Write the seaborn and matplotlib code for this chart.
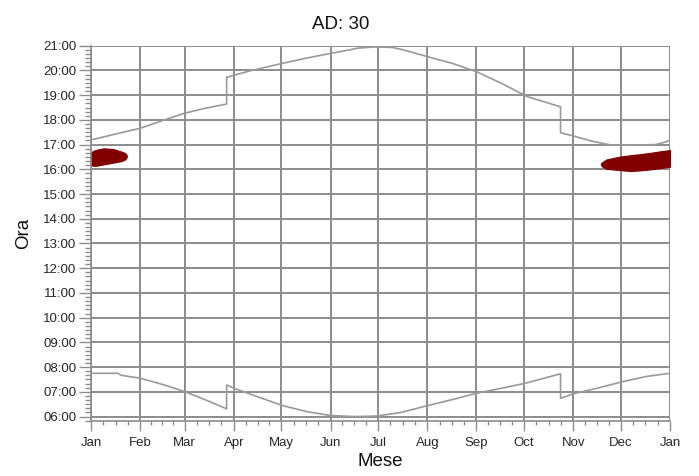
import matplotlib
matplotlib.use("Agg")
import matplotlib.pyplot as plt
import seaborn as sns
import pandas as pd
from matplotlib.ticker import FixedLocator, FuncFormatter, MultipleLocator

# Month axis (day of year)
month_labels = ["Jan", "Feb", "Mar", "Apr", "May", "Jun", "Jul",
                "Aug", "Sep", "Oct", "Nov", "Dec", "Jan"]
month_days = [0, 31, 59, 90, 120, 151, 181, 212, 243, 273, 304, 334, 365]

# Sunset time (hours), with daylight-saving jumps
sunset_days = [0, 15, 31, 45, 59, 72, 85.5, 85.5, 100, 121, 136, 151, 163, 168,
               179, 190, 197, 212, 228, 243, 259, 275, 296, 296, 304, 315,
               327, 340, 356, 363, 365]
sunset_hours = [17.19, 17.42, 17.66, 17.97, 18.27, 18.47, 18.64, 19.72, 19.98,
                20.29, 20.50, 20.69, 20.83, 20.90, 20.95, 20.93, 20.83, 20.56,
                20.28, 19.95, 19.47, 18.94, 18.53, 17.48, 17.35, 17.15, 16.99,
                16.98, 17.00, 17.12, 17.19]

# Sunrise time (hours), with daylight-saving jumps
sunrise_days = [0, 17, 19, 31, 45, 59, 72, 85.5, 85.5, 90, 105, 121, 136, 151,
                166, 180, 195, 212, 228, 243, 259, 274, 296, 296, 304, 320,
                335, 350, 365]
sunrise_hours = [7.75, 7.75, 7.67, 7.55, 7.30, 7.01, 6.68, 6.31, 7.28, 7.15,
                 6.80, 6.44, 6.20, 6.04, 6.00, 6.02, 6.16, 6.44, 6.69, 6.94,
                 7.15, 7.35, 7.73, 6.74, 6.92, 7.16, 7.41, 7.62, 7.75]

# Highlighted window, early January
jan_band_days = [0.5, 1.5, 4, 8, 14, 19, 21.5, 22.5]
jan_band_low = [16.16, 16.14, 16.15, 16.20, 16.27, 16.33, 16.40, 16.48]
jan_band_high = [16.70, 16.75, 16.80, 16.85, 16.82, 16.72, 16.66, 16.58]

# Highlighted window, late November - December
dec_band_days = [321.5, 322.5, 325, 333, 340, 347, 353, 358, 365]
dec_band_low = [16.17, 16.10, 16.02, 15.97, 15.93, 15.96, 16.00, 16.04, 16.11]
dec_band_high = [16.24, 16.30, 16.40, 16.51, 16.57, 16.62, 16.67, 16.72, 16.78]

sns.set_theme(style="white")
plt.rcParams["font.family"] = ["Liberation Sans", "DejaVu Sans"]

fig = plt.figure(figsize=(6.99, 4.76), dpi=100)
ax = fig.add_axes([91 / 699, 1 - 421 / 476, 579 / 699, (421 - 45.7) / 476])

grid_color = "#8c8c8c"
line_color = "#999999"
band_color = "#800000"

sunset = pd.DataFrame({"day": sunset_days, "hour": sunset_hours})
sunrise = pd.DataFrame({"day": sunrise_days, "hour": sunrise_hours})

sns.lineplot(data=sunset, x="day", y="hour", ax=ax, estimator=None, sort=False,
             color=line_color, linewidth=1.2, zorder=3)
sns.lineplot(data=sunrise, x="day", y="hour", ax=ax, estimator=None, sort=False,
             color=line_color, linewidth=1.2, zorder=3)

ax.fill_between(jan_band_days, jan_band_low, jan_band_high,
                color=band_color, linewidth=0.8, edgecolor=band_color, zorder=4)
ax.fill_between(dec_band_days, dec_band_low, dec_band_high,
                color=band_color, linewidth=0.8, edgecolor=band_color, zorder=4)

ax.set_xlim(0, 365)
ax.set_ylim(5.82, 21)

# Month ticks with quarter-month minor ticks
ax.xaxis.set_major_locator(FixedLocator(month_days))
ax.set_xticklabels(month_labels)
minor_x = []
for a, b in zip(month_days[:-1], month_days[1:]):
    minor_x += [a + (b - a) * k / 4 for k in (1, 2, 3)]
ax.xaxis.set_minor_locator(FixedLocator(minor_x))

# Hour ticks with 10-minute minor ticks
ax.yaxis.set_major_locator(FixedLocator(list(range(6, 22))))
ax.yaxis.set_major_formatter(FuncFormatter(lambda v, p: f"{int(round(v)):02d}:00"))
ax.yaxis.set_minor_locator(MultipleLocator(1 / 6))

ax.grid(True, which="major", color=grid_color, linewidth=1.4, zorder=1)
ax.set_axisbelow(True)

for side in ("top", "right"):
    ax.spines[side].set_visible(False)
for side in ("left", "bottom"):
    ax.spines[side].set_color(grid_color)
    ax.spines[side].set_linewidth(1.2)

ax.tick_params(axis="x", which="major", direction="out", length=7.2, width=1.0,
               color=grid_color, pad=4, labelsize=9.5, labelcolor="#262626",
               bottom=True)
ax.tick_params(axis="x", which="minor", direction="out", length=3.2, width=1.0,
               color=grid_color, bottom=True)
ax.tick_params(axis="y", which="major", direction="out", length=8.6, width=1.0,
               color=grid_color, pad=2, labelsize=9.5, labelcolor="#262626",
               left=True)
ax.tick_params(axis="y", which="minor", direction="out", length=4.3, width=1.0,
               color=grid_color, left=True)

ax.set_xlabel("Mese", fontsize=13.5, color="#111111", labelpad=3)
ax.set_ylabel("Ora", fontsize=13.5, color="#111111", labelpad=8)

fig.text(341 / 699, 1 - 29 / 476, "AD: 30", ha="center", va="baseline",
         fontsize=13.5, color="#111111")

fig.savefig("out.png", dpi=100, facecolor="white")
